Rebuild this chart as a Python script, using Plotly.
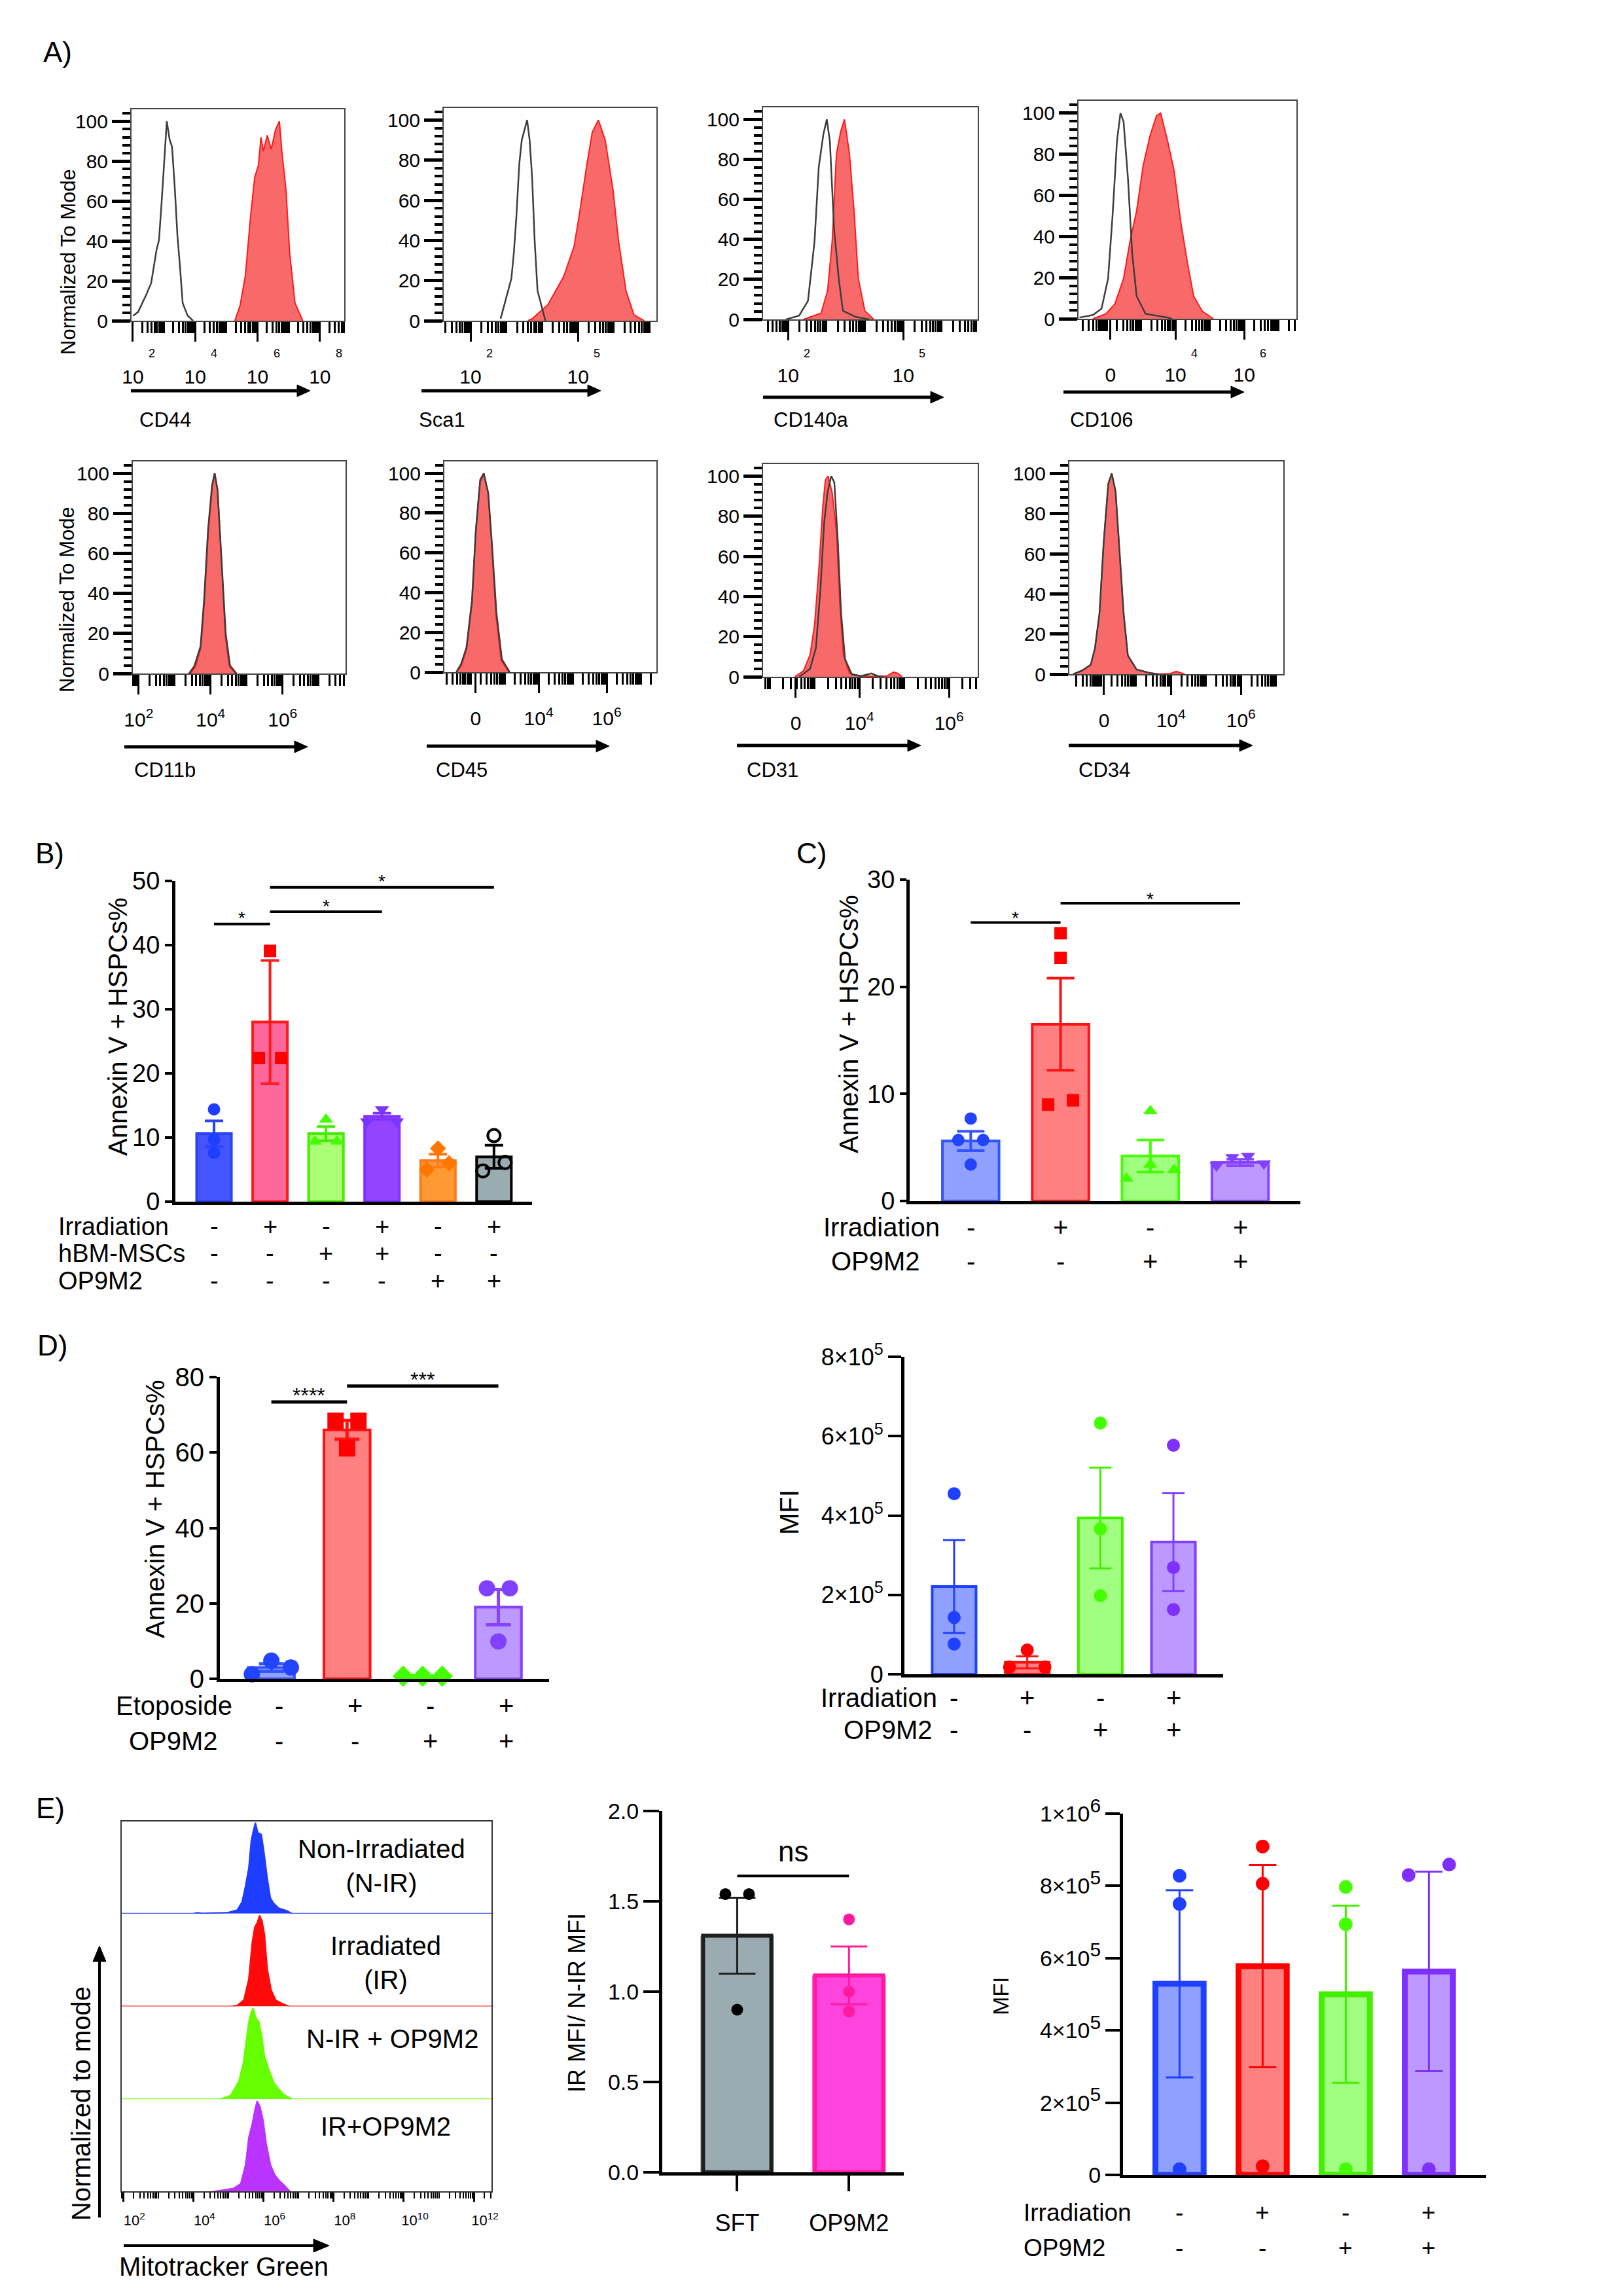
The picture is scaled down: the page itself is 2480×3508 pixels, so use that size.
import math
import plotly.graph_objects as go

W, H = 2480, 3508
FONT = "Liberation Sans, Arial, Helvetica, sans-serif"

# ======================= DATA =======================
# ---- Panel A: flow histograms; x = log10 fluorescence (decades), y = % of mode
cd44_iso_x = [2.01, 2.17, 2.42, 2.59, 2.76, 2.84, 2.93, 3.01, 3.09, 3.18, 3.26, 3.35, 3.43, 3.51, 3.60, 3.76, 3.93]
cd44_iso_y = [2.5, 4.4, 12.6, 18.9, 35.4, 40.4, 60.6, 82.1, 100, 90.9, 87.1, 65.7, 42.9, 27.8, 8.8, 2.5, 0]
cd44_pos_x = [5.27, 5.44, 5.61, 5.78, 5.91, 6.03, 6.11, 6.19, 6.31, 6.44, 6.58, 6.70, 6.78, 6.91, 7.03, 7.20, 7.45]
cd44_pos_y = [0, 7.6, 22.7, 53, 72, 78, 92, 85, 93, 86, 96, 100, 85, 66, 34, 9, 0]

sca1_iso_x = [2.84, 3.14, 3.21, 3.28, 3.36, 3.43, 3.58, 3.65, 3.72, 3.79, 3.87, 4.09]
sca1_iso_y = [1, 21, 34, 52, 78, 90, 100, 90, 71, 40, 15, 0]
sca1_pos_x = [3.60, 3.72, 4.16, 4.60, 4.89, 5.03, 5.25, 5.40, 5.57, 5.76, 5.98, 6.13, 6.34, 6.56, 6.85]
sca1_pos_y = [0, 1, 8, 22, 37, 52, 78, 94, 100, 90, 65, 40, 15, 3, 0]

cd140a_iso_x = [1.95, 2.29, 2.52, 2.69, 2.80, 2.92, 3.01, 3.09, 3.20, 3.32, 3.43, 3.77, 4.12]
cd140a_iso_y = [0, 1.9, 9.3, 39, 76, 92.5, 100, 89, 45, 20.5, 4.3, 1.2, 0]
cd140a_pos_x = [2.40, 2.86, 3.03, 3.15, 3.26, 3.37, 3.47, 3.60, 3.72, 3.83, 4.00, 4.23]
cd140a_pos_y = [0, 3.1, 14.3, 39, 82.6, 93.8, 100, 82.6, 54, 20.5, 4.3, 0]

cd106_iso_x = [1.21, 1.60, 1.85, 2.04, 2.17, 2.30, 2.40, 2.49, 2.62, 2.74, 2.87, 3.13, 3.77, 3.90]
cd106_iso_y = [0.6, 1.8, 4.9, 19.5, 50, 86.6, 100, 96, 68, 32, 11, 2.4, 0.6, 0]
cd106_pos_x = [1.60, 1.98, 2.24, 2.49, 2.68, 2.87, 3.06, 3.26, 3.45, 3.57, 3.77, 3.96, 4.15, 4.34, 4.53, 4.78, 5.10]
cd106_pos_y = [0, 2.4, 7.3, 19.5, 37.8, 52.4, 74.4, 89, 98.8, 100, 86.6, 72, 47.6, 28, 11, 3.7, 0]

cd11b_iso_x = [3.40, 3.55, 3.72, 3.82, 3.93, 4.04, 4.11, 4.19, 4.31, 4.42, 4.54, 4.72]
cd11b_iso_y = [0, 3.8, 13.5, 37, 72, 94, 100, 92, 55, 20, 4, 0]
cd11b_pos_x = [3.44, 3.58, 3.73, 3.83, 3.94, 4.05, 4.12, 4.20, 4.31, 4.41, 4.52, 4.70]
cd11b_pos_y = [0, 3.5, 12.9, 36.4, 71.6, 93.9, 100, 91.5, 54, 18.8, 3.5, 0]

cd45_iso_x = [1.58, 1.72, 1.88, 2.04, 2.15, 2.28, 2.39, 2.52, 2.63, 2.76, 2.92, 3.15]
cd45_iso_y = [0, 4, 12.5, 36, 70, 96, 100, 90, 64, 30, 6.5, 0]
cd45_pos_x = [1.60, 1.74, 1.89, 2.05, 2.15, 2.28, 2.38, 2.51, 2.62, 2.74, 2.90, 3.13]
cd45_pos_y = [0, 3.8, 12, 35.7, 71, 97, 100, 91, 65, 29.8, 6, 0]

cd31_iso_x = [2.66, 2.90, 3.03, 3.13, 3.21, 3.29, 3.37, 3.44, 3.52, 3.59, 3.68, 3.83, 4.03, 4.27, 4.42, 4.52]
cd31_iso_y = [0, 4, 14.5, 43.5, 76, 92, 100, 96.9, 66.7, 31.9, 8.7, 1.2, 0.3, 1.7, 0.3, 0]
cd31_pos_x = [2.56, 2.75, 2.90, 3.00, 3.10, 3.18, 3.24, 3.30, 3.39, 3.49, 3.56, 3.64, 3.78, 4.03, 4.61, 4.76, 4.86, 4.95]
cd31_pos_y = [0, 2.9, 11, 26, 55, 84, 98, 100, 92, 72.5, 37.7, 11, 1.7, 0.3, 0.3, 2.3, 1.7, 0]

cd34_iso_x = [1.21, 1.46, 1.71, 1.83, 1.96, 2.08, 2.21, 2.31, 2.42, 2.52, 2.65, 2.77, 3.02, 3.40, 3.65]
cd34_iso_y = [0, 1.8, 4.7, 12.9, 30.4, 65.5, 94.7, 100, 91.2, 65.5, 30.4, 9.4, 2.3, 0.6, 0]
cd34_pos_x = [1.21, 1.46, 1.71, 1.83, 1.96, 2.08, 2.21, 2.31, 2.42, 2.52, 2.65, 2.77, 3.02, 3.40, 3.65, 3.96, 4.15, 4.40]
cd34_pos_y = [0, 1.5, 4.5, 12.5, 30, 66, 95, 100, 91, 65, 30, 9, 2.3, 0.6, 0.1, 0.2, 1.4, 0]

# ---- Panel B: Annexin V+ HSPCs % (6 groups)
b_irr = ["-", "+", "-", "+", "-", "+"]
b_msc = ["-", "-", "+", "+", "-", "-"]
b_op9 = ["-", "-", "-", "-", "+", "+"]
b_mean = [10.6, 28.0, 10.6, 13.3, 6.4, 7.0]
b_err = [2.0, 9.6, 1.1, 0.5, 1.0, 1.8]
b_pts = [[14.4, 9.7, 7.6], [39.1, 22.4, 22.4], [12.8, 9.4, 9.4],
         [14.4, 12.5, 12.5], [8.3, 6.0, 5.0], [10.3, 6.1, 4.8]]
b_sig = [(0, 1, 43.3, "*"), (1, 3, 45.2, "*"), (1, 5, 49.0, "*")]

# ---- Panel C
c_irr = ["-", "+", "-", "+"]
c_op9 = ["-", "-", "+", "+"]
c_mean = [5.6, 16.5, 4.2, 3.6]
c_err = [0.9, 4.3, 1.5, 0.3]
c_pts = [[7.7, 5.7, 5.7, 3.4], [25.0, 22.7, 9.4, 9.0], [8.4, 3.4, 2.9, 2.1], [4.2, 4.1, 3.5, 3.3]]
c_sig = [(0, 1, 26.0, "*"), (1, 3, 27.8, "*")]

# ---- Panel D (left): etoposide
d_eto = ["-", "+", "-", "+"]
d_op9 = ["-", "-", "+", "+"]
d_mean = [3.0, 66.0, 0.7, 19.0]
d_err = [1.0, 2.5, 0.1, 4.7]
d_pts = [[4.8, 3.0, 1.2], [68.4, 68.4, 61.1], [0.7, 0.7, 0.7], [24.0, 24.0, 9.9]]
d_sig = [(0, 1, 73.4, "****"), (1, 3, 77.6, "***")]

# ---- Panel D (right): MFI
dr_irr = ["-", "+", "-", "+"]
dr_op9 = ["-", "-", "+", "+"]
dr_mean = [2.21e5, 0.30e5, 3.94e5, 3.33e5]
dr_err = [1.17e5, 0.15e5, 1.27e5, 1.23e5]
dr_pts = [[4.55e5, 1.43e5, 0.76e5], [0.61e5, 0.18e5, 0.18e5],
          [6.33e5, 3.66e5, 1.98e5], [5.77e5, 2.69e5, 1.63e5]]

# ---- Panel E (left): Mitotracker Green histograms, x = log10 intensity
e_lanes = ["Non-Irradiated<br>(N-IR)", "Irradiated<br>(IR)", "N-IR + OP9M2", "IR+OP9M2"]
e_blue_x = [1.9, 4.0, 4.11, 4.25, 4.96, 5.25, 5.39, 5.49, 5.58, 5.65, 5.71, 5.77, 5.84, 5.94, 6.01, 6.11, 6.20, 6.30, 6.44, 6.68, 6.82, 12.6]
e_blue_y = [0, 0, 1, 0.3, 1, 4, 13, 31, 50, 80, 91, 100, 89, 87, 69, 39, 17, 11, 6, 3, 0, 0]
e_red_x = [1.9, 5.1, 5.25, 5.44, 5.58, 5.68, 5.75, 5.82, 5.89, 5.96, 6.03, 6.11, 6.22, 6.35, 6.54, 6.73, 12.6]
e_red_y = [0, 0, 1, 7, 30, 71, 87, 92, 100, 94, 79, 41, 18, 7, 3, 0, 0]
e_green_x = [1.9, 4.77, 5.06, 5.20, 5.30, 5.42, 5.51, 5.58, 5.65, 5.71, 5.79, 5.87, 5.95, 6.03, 6.16, 6.30, 6.44, 6.58, 6.82, 12.6]
e_green_y = [0, 0, 4, 13, 20, 39, 66, 85, 96, 100, 89, 85, 70, 47, 32, 18, 11, 5, 0, 0]
e_purple_x = [1.9, 4.5, 4.68, 5.15, 5.35, 5.49, 5.58, 5.68, 5.76, 5.82, 5.90, 5.99, 6.08, 6.20, 6.32, 6.44, 6.58, 6.77, 12.6]
e_purple_y = [0, 0, 1, 4, 9, 30, 60, 75, 91, 100, 94, 79, 53, 30, 19, 13, 8, 0, 0]

# ---- Panel E (middle): IR MFI / N-IR MFI
em_cats = ["SFT", "OP9M2"]
em_mean = [1.31, 1.09]
em_err = [0.21, 0.16]
em_pts = [[1.54, 1.54, 0.90], [1.40, 1.00, 0.89]]
em_sig = [(0, 1, 1.64, "ns")]

# ---- Panel E (right): MFI
er_irr = ["-", "+", "-", "+"]
er_op9 = ["-", "-", "+", "+"]
er_mean = [5.29e5, 5.78e5, 5.00e5, 5.63e5]
er_err = [2.59e5, 2.80e5, 2.45e5, 2.76e5]
er_pts = [[8.28e5, 7.50e5, 0.16e5], [9.09e5, 8.06e5, 0.24e5],
          [7.97e5, 6.94e5, 0.16e5], [8.59e5, 8.30e5, 0.16e5]]

# ======================= HELPERS =======================
fig = go.Figure()
L = {}
ann = []
shp = []
_n = [0]


def PX(x):
    return x / W


def PY(y):
    return 1 - y / H


def axes(box, xcfg, ycfg):
    _n[0] += 1
    s = '' if _n[0] == 1 else str(_n[0])
    x0, x1, yt, yb = box
    L['xaxis' + s] = dict(showgrid=False, zeroline=False, automargin=False,
                          domain=[PX(x0), PX(x1)], anchor='y' + s, **xcfg)
    L['yaxis' + s] = dict(showgrid=False, zeroline=False, automargin=False,
                          domain=[PY(yb), PY(yt)], anchor='x' + s, **ycfg)
    return 'x' + s, 'y' + s


def txt(s, x, y, size, xanchor='center', angle=0, color='black'):
    ann.append(dict(text=s, x=PX(x), y=PY(y), xref='paper', yref='paper', showarrow=False,
                    xanchor=xanchor, yanchor='middle', textangle=angle,
                    font=dict(size=size, color=color, family=FONT)))


def arrow(x0, y0, x1, y1, w=4, hl=20, hw=9):
    ln = math.hypot(x1 - x0, y1 - y0)
    dx, dy = (x1 - x0) / ln, (y1 - y0) / ln
    bx, by = x1 - dx * hl, y1 - dy * hl
    nx, ny = -dy, dx
    shp.append(dict(type='line', xref='paper', yref='paper', x0=PX(x0), y0=PY(y0),
                    x1=PX(bx + dx * 2), y1=PY(by + dy * 2), line=dict(color='black', width=w)))
    pts = [(x1, y1), (bx + nx * hw, by + ny * hw), (bx - nx * hw, by - ny * hw)]
    path = 'M ' + ' L '.join('%.6f,%.6f' % (PX(a), PY(b)) for a, b in pts) + ' Z'
    shp.append(dict(type='path', xref='paper', yref='paper', path=path,
                    fillcolor='black', line=dict(color='black', width=1)))


def minor_ticks(lo, hi, extra=()):
    vals = list(extra)
    for d in range(math.floor(lo), math.ceil(hi) + 1):
        for k in range(2, 10):
            v = d + math.log10(k)
            if lo < v < hi:
                vals.append(round(v, 4))
    return sorted(vals)


def hist(box, urange, labels, iso, pos, top, exps=()):
    lo, hi = urange
    majors = sorted(labels)
    decades = [d for d in range(math.ceil(lo), math.floor(hi) + 1) if d not in labels]
    xcfg = dict(range=[lo, hi], tickmode='array', tickvals=majors,
                ticktext=[labels[m] for m in majors],
                ticks='outside', ticklen=30, tickwidth=3, tickcolor='black',
                showline=True, linecolor='#444', linewidth=2, mirror=True,
                tickfont=dict(size=30, family=FONT), ticklabelstandoff=(28 if top else 13),
                minor=dict(tickmode='array', tickvals=minor_ticks(lo, hi, decades), ticks='outside',
                           ticklen=17, tickwidth=3, tickcolor='black'))
    ycfg = dict(range=[0, 106], tickmode='array', tickvals=[0, 20, 40, 60, 80, 100],
                ticks='outside', ticklen=28, tickwidth=5, tickcolor='black',
                showline=True, linecolor='#444', linewidth=2, mirror=True,
                tickfont=dict(size=30, family=FONT),
                minor=dict(tickmode='array', tickvals=[v for v in range(4, 106, 4) if v % 20],
                           ticks='outside', ticklen=12, tickwidth=4, tickcolor='black'))
    xa, ya = axes(box, xcfg, ycfg)
    fig.add_trace(go.Scatter(x=pos[0], y=pos[1], xaxis=xa, yaxis=ya, mode='lines', fill='tozeroy',
                             fillcolor='#f86a6a', line=dict(color='#ff1a1a', width=2)))
    fig.add_trace(go.Scatter(x=iso[0], y=iso[1], xaxis=xa, yaxis=ya, mode='lines',
                             line=dict(color='#3d3d3d', width=2.5)))
    for u, d in exps:
        ann.append(dict(text=d, x=u, xref=xa, y=PY(540), yref='paper', xshift=29, showarrow=False,
                        xanchor='center', yanchor='middle', font=dict(size=18, family=FONT)))


def spread(vals, ppu, size_px, step_px, bar_px):
    order = sorted(range(len(vals)), key=lambda k: -vals[k])
    clusters = []
    for k in order:
        if clusters and (vals[clusters[-1][-1]] - vals[k]) * ppu < size_px:
            clusters[-1].append(k)
        else:
            clusters.append([k])
    off = [0.0] * len(vals)
    for c in clusters:
        n = len(c)
        if n == 1:
            continue
        step = min(step_px, bar_px * 0.8 / (n - 1))
        if n % 2:
            pat = [0]
            j = 1
            while len(pat) < n:
                pat += [j, -j]
                j += 1
        else:
            pat = []
            j = 0.5
            while len(pat) < n:
                pat += [j, -j]
                j += 1
        for k, p in zip(c, pat[:n]):
            off[k] = p * step
    return off


def bars(box, xr, yr, ytv, ytt, means, errs, pts, fills, borders, mcols, msyms,
         bw, lw, ew, ecap, ms, step_px, tickfont, ticklen, halo=None, xticks=None):
    xcfg = dict(range=xr, showline=True, linecolor='black', linewidth=5, ticks='', showticklabels=False)
    if xticks:
        xcfg.update(tickmode='array', tickvals=list(range(len(xticks))), ticktext=xticks,
                    showticklabels=True, ticks='outside', ticklen=24, tickwidth=4, tickcolor='black',
                    tickfont=dict(size=36, family=FONT), ticklabelstandoff=18)
    ycfg = dict(range=yr, tickmode='array', tickvals=ytv, ticktext=ytt, ticks='outside',
                ticklen=ticklen, tickwidth=4, tickcolor='black', showline=True, linecolor='black',
                linewidth=5, tickfont=dict(size=tickfont, family=FONT))
    xa, ya = axes(box, xcfg, ycfg)
    x0, x1, yt, yb = box
    ppu = (yb - yt) / (yr[1] - yr[0])
    cat_px = (x1 - x0) / (xr[1] - xr[0])
    for i, (m, e) in enumerate(zip(means, errs)):
        if halo:
            fig.add_trace(go.Bar(x=[i], y=[m], width=[bw + halo[0]], xaxis=xa, yaxis=ya,
                                 marker=dict(color=halo[1][i], line=dict(width=0))))
        fig.add_trace(go.Bar(x=[i], y=[m], width=[bw], xaxis=xa, yaxis=ya,
                             marker=dict(color=fills[i], line=dict(color=borders[i], width=lw)),
                             error_y=dict(type='data', array=[e], color=borders[i], thickness=ew, width=ecap)))
    for i, vals in enumerate(pts):
        offs = spread(vals, ppu, ms, step_px, bw * cat_px + lw)
        xs = [i + o / cat_px for o in offs]
        sym = msyms[i]
        if sym.endswith('-open'):
            mk = dict(symbol=sym, size=ms, color=mcols[i], line=dict(color=mcols[i], width=4))
        else:
            mk = dict(symbol=sym, size=ms, color=mcols[i], line=dict(width=0))
        fig.add_trace(go.Scatter(x=xs, y=vals, mode='markers', marker=mk, xaxis=xa, yaxis=ya,
                                 cliponaxis=False))
    return xa, ya


def sig(xa, ya, items, size, lw, yshift):
    for a, b, h, lab in items:
        shp.append(dict(type='line', xref=xa, yref=ya, x0=a, x1=b, y0=h, y1=h,
                        line=dict(color='black', width=lw)))
        ann.append(dict(text=lab, x=(a + b) / 2, y=h, xref=xa, yref=ya, showarrow=False,
                        xanchor='center', yanchor='middle', yshift=yshift,
                        font=dict(size=size, family=FONT, color='black')))


def rows(xa, names, signs, xs_left, ys, size, xshift=0):
    for name, sg, xl, y in zip(names, signs, xs_left, ys):
        txt(name, xl, y, size, xanchor='left')
        for i, s in enumerate(sg):
            ann.append(dict(text=s, x=i, xref=xa, y=PY(y), yref='paper', showarrow=False,
                            xanchor='center', yanchor='middle', xshift=xshift,
                            font=dict(size=size, family=FONT, color='black')))


sup = lambda k: '10<sup>%d</sup>' % k

# ======================= PANEL A =======================
txt("A)", 88, 80, 44)
hist((201, 526, 167, 490), (1.96, 8.78), {2: '10', 4: '10', 6: '10', 8: '10'},
     (cd44_iso_x, cd44_iso_y), (cd44_pos_x, cd44_pos_y), True,
     [(2, '2'), (4, '4'), (6, '6'), (8, '8')])
hist((678, 1003, 165, 490), (1.25, 7.19), {2: '10', 5: '10'},
     (sca1_iso_x, sca1_iso_y), (sca1_pos_x, sca1_pos_y), True, [(2, '2'), (5, '5')])
hist((1166, 1494, 164, 488), (1.35, 6.94), {2: '10', 5: '10'},
     (cd140a_iso_x, cd140a_iso_y), (cd140a_pos_x, cd140a_pos_y), True, [(2, '2'), (5, '5')])
hist((1648, 1981, 154, 487), (1.18, 7.52), {2.11: '0', 4: '10', 6: '10'},
     (cd106_iso_x, cd106_iso_y), (cd106_pos_x, cd106_pos_y), True, [(4, '4'), (6, '6')])

hist((203, 528, 705, 1029), (1.84, 7.75), {2: sup(2), 4: sup(4), 6: sup(6)},
     (cd11b_iso_x, cd11b_iso_y), (cd11b_pos_x, cd11b_pos_y), False)
hist((679, 1003, 705, 1027), (1.23, 7.46), {2.15: '0', 4: sup(4), 6: sup(6)},
     (cd45_iso_x, cd45_iso_y), (cd45_pos_x, cd45_pos_y), False)
hist((1166, 1494, 709, 1034), (1.85, 6.64), {2.58: '0', 4: sup(4), 6: sup(6)},
     (cd31_iso_x, cd31_iso_y), (cd31_pos_x, cd31_pos_y), False)
hist((1634, 1961, 705, 1030), (1.10, 7.21), {2.09: '0', 4: sup(4), 6: sup(6)},
     (cd34_iso_x, cd34_iso_y), (cd34_pos_x, cd34_pos_y), False)

txt("Normalized To Mode", 104, 400, 31, angle=-90)
txt("Normalized To Mode", 102, 916, 31, angle=-90)
for (x0, x1, y) in [(200, 474, 597), (644, 918, 597), (1166, 1442, 607), (1625, 1901, 599),
                    (190, 470, 1141), (652, 931, 1140), (1126, 1407, 1139), (1633, 1914, 1139)]:
    arrow(x0, y, x1, y, 5, 20, 9)
for (lab, x, y) in [("CD44", 211, 641), ("Sca1", 638, 641), ("CD140a", 1180, 641), ("CD106", 1633, 641),
                    ("CD11b", 203, 1177), ("CD45", 664, 1177), ("CD31", 1139, 1177), ("CD34", 1646, 1177)]:
    txt(lab, x, y, 31, xanchor='left')

# ======================= PANEL B =======================
txt("B)", 76, 1303, 44)
xa, ya = bars((268, 813, 1346, 1836), [-0.69, 5.68], [0, 50], [0, 10, 20, 30, 40, 50],
              ['0', '10', '20', '30', '40', '50'], b_mean, b_err, b_pts,
              ['#4455ff', '#ff6699', '#aaff77', '#9444ff', '#ff9933', '#9aabb1'],
              ['#2a44f5', '#ff1a1a', '#44ee00', '#8033ff', '#ff7a1a', '#000000'],
              ['#1f3fff', '#ff0000', '#44ff00', '#7a35ff', '#ff7700', '#000000'],
              ['circle', 'square', 'triangle-up', 'triangle-down', 'diamond', 'circle-open'],
              0.62, 4, 4, 14, 19, 34, 38, 11)
sig(xa, ya, b_sig, 28, 4, 9)
rows(xa, ["Irradiation", "hBM-MSCs", "OP9M2"], [b_irr, b_msc, b_op9], [87, 87, 87], [1874, 1915, 1957], 38)
txt("Annexin V + HSPCs%", 180, 1569, 40, angle=-90)

# ======================= PANEL C =======================
txt("C)", 1240, 1303, 44)
light_fill = ['#8fa0ff', '#ff8080', '#a0ff80', '#bb99ff']
xa, ya = bars((1390, 1987, 1344, 1835), [-0.68, 3.67], [0, 30], [0, 10, 20, 30], ['0', '10', '20', '30'],
              c_mean, c_err, c_pts, light_fill,
              ['#3355ff', '#ff1111', '#44ff00', '#8844ff'],
              ['#2244ff', '#ff0000', '#44ff00', '#8040ff'],
              ['circle', 'square', 'triangle-up', 'triangle-down'],
              0.63, 4, 4, 21, 19, 38, 38, 10)
sig(xa, ya, c_sig, 28, 4, 7)
rows(xa, ["Irradiation", "OP9M2"], [c_irr, c_op9], [1256, 1268], [1875, 1927], 40)
txt("Annexin V + HSPCs%", 1297, 1565, 40, angle=-90)

# ======================= PANEL D =======================
txt("D)", 80, 2055, 44)
xa, ya = bars((336, 839, 2104, 2565), [-0.68, 3.67], [0, 80], [0, 20, 40, 60, 80], ['0', '20', '40', '60', '80'],
              d_mean, d_err, d_pts, light_fill,
              ['#3355ff', '#ff1111', '#44ff00', '#8844ff'],
              ['#2244ff', '#ff0000', '#44ff00', '#8040ff'],
              ['circle', 'square', 'diamond', 'circle'],
              0.61, 4, 5, 19, 25, 35, 40, 11)
sig(xa, ya, d_sig, 32, 5, 10)
rows(xa, ["Etoposide", "OP9M2"], [d_eto, d_op9], [175, 195], [2606, 2660], 40, xshift=12)
txt("Annexin V + HSPCs%", 237, 2306, 40, angle=-90)

mfi_tv = [0, 2e5, 4e5, 6e5, 8e5]
mfi_tt = ['0'] + ['%d×10<sup>5</sup>' % k for k in (2, 4, 6, 8)]
xa, ya = bars((1382, 1869, 2073, 2558), [-0.68, 3.68], [0, 8e5], mfi_tv, mfi_tt,
              dr_mean, dr_err, dr_pts, light_fill,
              ['#2040ff', '#ff1111', '#44ee00', '#8040ff'],
              ['#2040ff', '#ff0000', '#44ff00', '#7f30ff'],
              ['circle'] * 4, 0.60, 4, 3, 17, 20, 54, 36, 20)
rows(xa, ["Irradiation", "OP9M2"], [dr_irr, dr_op9], [1252, 1287], [2594, 2643], 40)
txt("MFI", 1206, 2311, 40, angle=-90)

# ======================= PANEL E =======================
txt("E)", 77, 2762, 44)
lane_cols = ['#1f3dff', '#ff0a0a', '#66ff00', '#bb33ff']
lane_data = [(e_blue_x, e_blue_y), (e_red_x, e_red_y), (e_green_x, e_green_y), (e_purple_x, e_purple_y)]
lane_top, lane_h = 2782, (3349 - 2782) / 4
erange = [1.94, 12.52]
for i, ((lx, ly), col) in enumerate(zip(lane_data, lane_cols)):
    top = lane_top + i * lane_h
    bottom = top + lane_h
    if i < 3:
        xcfg = dict(range=erange, visible=False)
    else:
        xcfg = dict(range=erange, tickmode='array', tickvals=list(range(2, 13, 2)),
                    ticktext=[sup(k) for k in range(2, 13, 2)],
                    ticks='outside', ticklen=14, tickwidth=3, tickcolor='black', showline=False,
                    tickfont=dict(size=22, family=FONT), ticklabelstandoff=10, ticklabelshift=17,
                    minor=dict(tickmode='array', tickvals=minor_ticks(erange[0], erange[1], range(3, 13, 2)),
                               ticks='outside', ticklen=9, tickwidth=2, tickcolor='black'))
    xa, ya = axes((185, 752, top, bottom), xcfg, dict(range=[0, 102], visible=False))
    fig.add_trace(go.Scatter(x=lx, y=ly, xaxis=xa, yaxis=ya, mode='lines', fill='tozeroy',
                             fillcolor=col, line=dict(color=col, width=2)))
shp.append(dict(type='rect', xref='paper', yref='paper', x0=PX(185), x1=PX(752), y0=PY(3349), y1=PY(2782),
                line=dict(color='#333', width=2)))
txt(e_lanes[0], 583, 2851, 40)
txt(e_lanes[1], 589, 2999, 40)
txt(e_lanes[2], 599, 3115, 40)
txt(e_lanes[3], 589, 3249, 40)
txt("Normalized to mode", 124, 3214, 40, angle=-90)
arrow(152, 3388, 152, 2973, 4, 24, 10)
arrow(189, 3431, 503, 3431, 4, 24, 10)
txt("Mitotracker Green", 342, 3463, 40)

# middle
xa, ya = bars((1012, 1381, 2767, 3319), [-0.67, 1.49], [0, 2], [0, 0.5, 1.0, 1.5, 2.0],
              ['0.0', '0.5', '1.0', '1.5', '2.0'], em_mean, em_err, em_pts,
              ['#9aabb1', '#ff44dd'], ['#1e1e1e', '#ff1aa0'], ['#000000', '#ff1aa0'],
              ['circle', 'circle'], 0.61, 6, 3, 28, 18, 36, 34, 24,
              halo=(0.05, ['#a9b6bb', '#ff66e4']), xticks=em_cats)
sig(xa, ya, em_sig, 44, 4, 38)
txt("IR MFI/ N-IR MFI", 881, 3060, 36, angle=-90)

# right
er_tv = [0, 2e5, 4e5, 6e5, 8e5, 1e6]
big_sup = lambda m, e: "%d×10<sup><span style='font-size:30px'>%d</span></sup>" % (m, e)
er_tt = ['0'] + [big_sup(k, 5) for k in (2, 4, 6, 8)] + [big_sup(1, 6)]
xa, ya = bars((1716, 2271, 2771, 3323), [-0.68, 3.69], [0, 1e6], er_tv, er_tt,
              er_mean, er_err, er_pts, light_fill,
              ['#2040ff', '#ff0000', '#44ee00', '#7f30ff'],
              ['#2040ff', '#ff0000', '#44ff00', '#7f30ff'],
              ['circle'] * 4, 0.58, 9, 3, 21, 21, 62, 34, 22)
rows(xa, ["Irradiation", "OP9M2"], [er_irr, er_op9], [1562, 1562], [3380, 3434], 37)
txt("MFI", 1529, 3050, 34, angle=-90)

fig.update_layout(template='none', width=W, height=H, margin=dict(l=0, r=0, t=0, b=0, pad=0),
                  paper_bgcolor='white', plot_bgcolor='rgba(0,0,0,0)', showlegend=False,
                  barmode='overlay', font=dict(family=FONT, color='black'),
                  annotations=ann, shapes=shp, **L)
fig.write_html("out.html")
